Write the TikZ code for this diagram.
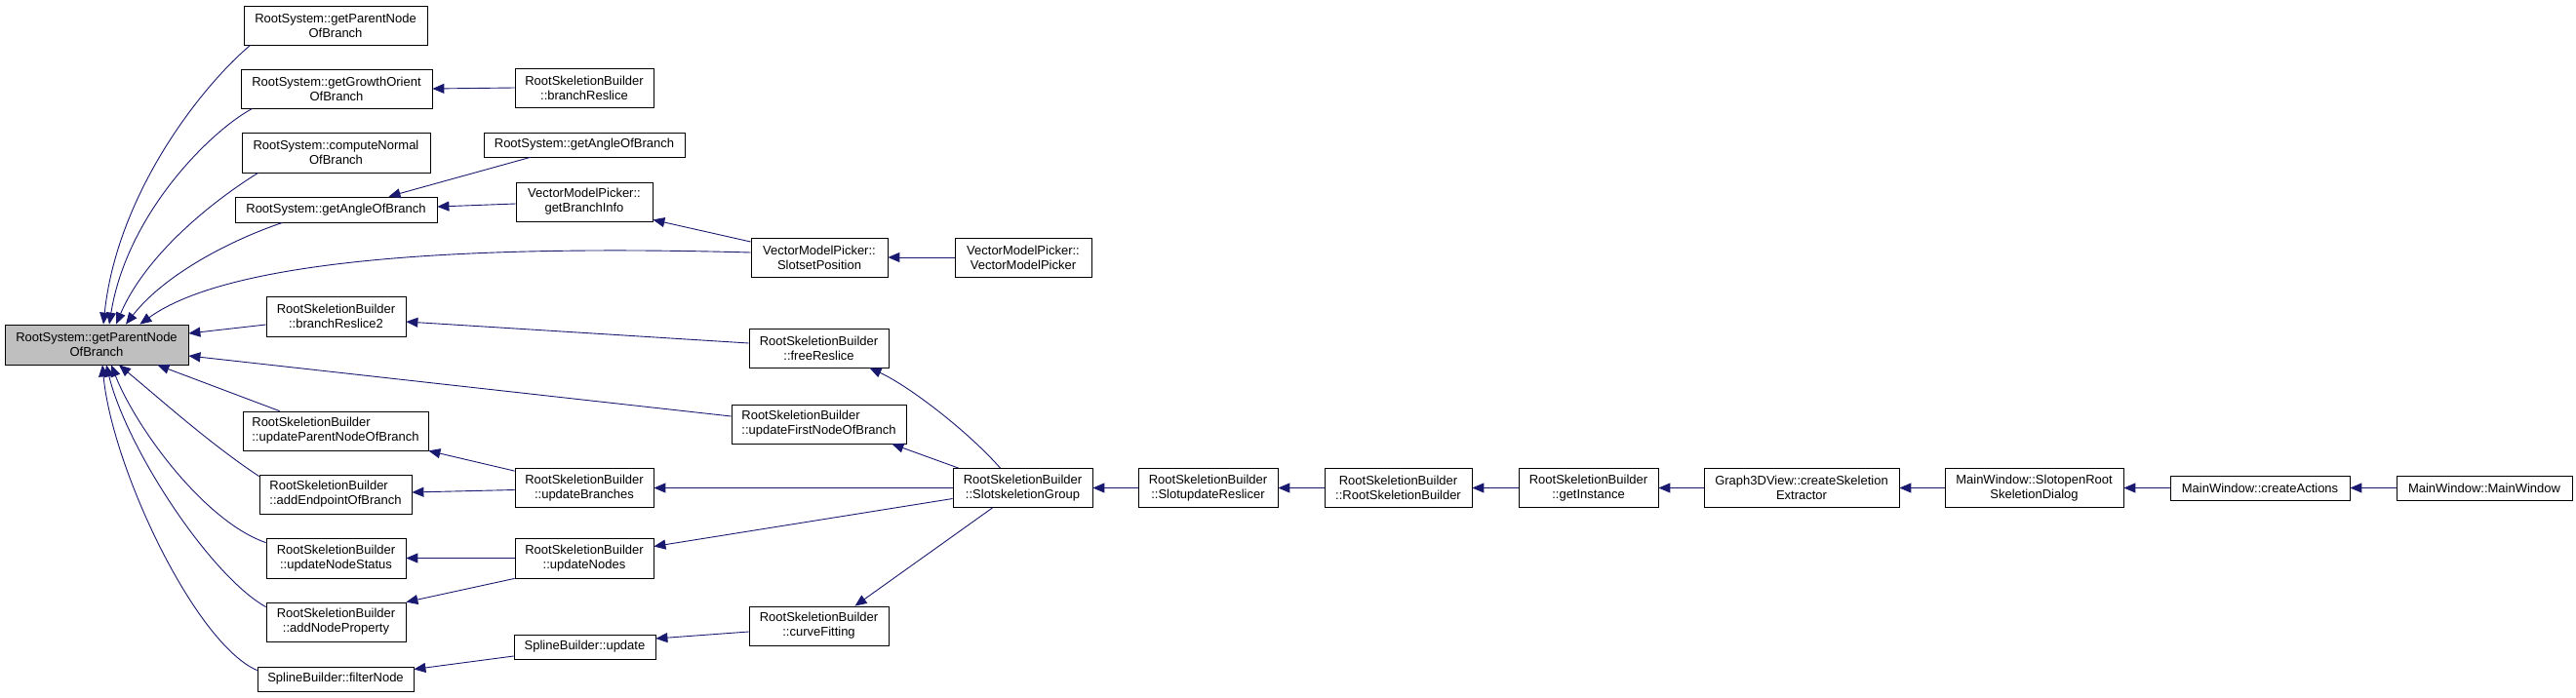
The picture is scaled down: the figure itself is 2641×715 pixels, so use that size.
\documentclass[tikz,border=0pt]{standalone}
\usepackage{fontspec}
\setmainfont{Liberation Sans}
\usepackage{tikz}
\usetikzlibrary{arrows.meta,positioning}
\definecolor{edgeblue}{HTML}{191970}
\definecolor{rootgray}{HTML}{BFBFBF}

\begin{document}
\begin{tikzpicture}[x=1pt,y=-1pt, every node/.style={font=\fontsize{13}{15}\selectfont}, box/.style={draw=black,fill=white,align=center,inner sep=0pt,line width=0.8pt}, wh/.style 2 args={minimum width=#1pt,minimum height=#2pt}, arr/.style={-{Triangle[length=12pt,width=10pt]},draw=edgeblue,line width=0.9pt}]
\path[use as bounding box,fill=white] (0,0) rectangle (2641,715);
% callee column
\node[box,fill=rootgray,wh={188}{41}] (root) at (99,353.5) {RootSystem::getParentNode\\OfBranch};
% direct callers
\node[box,wh={188}{40}] (pnb) at (344,26) {RootSystem::getParentNode\\OfBranch};
\node[box,wh={196}{40}] (gro) at (345,91) {RootSystem::getGrowthOrient\\OfBranch};
\node[box,wh={193}{41}] (cnb) at (344.5,156.5) {RootSystem::computeNormal\\OfBranch};
\node[box,wh={207}{26}] (gab) at (344.5,215) {RootSystem::getAngleOfBranch};
\node[box,wh={143}{41}] (br2) at (344.5,324.5) {RootSkeletionBuilder\\::branchReslice2};
\node[box,align=left,wh={190}{40}] (upn) at (344,442) {RootSkeletionBuilder\\::updateParentNodeOfBranch};
\node[box,align=left,wh={156}{40}] (aep) at (344,507) {RootSkeletionBuilder\\::addEndpointOfBranch};
\node[box,wh={143}{41}] (uns) at (344.5,572.5) {RootSkeletionBuilder\\::updateNodeStatus};
\node[box,wh={143}{40}] (anp) at (344.5,638) {RootSkeletionBuilder\\::addNodeProperty};
\node[box,wh={160}{25}] (fln) at (344,696.5) {SplineBuilder::filterNode};
% third column
\node[box,wh={142}{40}] (brs) at (599,90) {RootSkeletionBuilder\\::branchReslice};
\node[box,wh={206}{25}] (gar) at (599,148.5) {RootSystem::getAngleOfBranch};
\node[box,wh={140}{40}] (gbi) at (599,207) {VectorModelPicker::\\getBranchInfo};
\node[box,wh={142}{40}] (ubr) at (599,500.5) {RootSkeletionBuilder\\::updateBranches};
\node[box,wh={142}{41}] (und) at (599,572.5) {RootSkeletionBuilder\\::updateNodes};
\node[box,wh={145}{25}] (sbu) at (599.5,663.5) {SplineBuilder::update};
% fourth column
\node[box,wh={140}{40}] (spos) at (840,264) {VectorModelPicker::\\SlotsetPosition};
\node[box,wh={143}{40}] (frs) at (839.5,357) {RootSkeletionBuilder\\::freeReslice};
\node[box,align=left,wh={179}{40}] (ufn) at (839.5,435) {RootSkeletionBuilder\\::updateFirstNodeOfBranch};
\node[box,wh={143}{40}] (cfit) at (839.5,642) {RootSkeletionBuilder\\::curveFitting};
% chain to the main window
\node[box,wh={140}{40}] (vmp) at (1049,264) {VectorModelPicker::\\VectorModelPicker};
\node[box,wh={143}{40}] (skg) at (1048.5,500.5) {RootSkeletionBuilder\\::SlotskeletionGroup};
\node[box,wh={143}{40}] (sur) at (1238.5,500.5) {RootSkeletionBuilder\\::SlotupdateReslicer};
\node[box,wh={151}{40}] (rsb) at (1433.5,500.5) {RootSkeletionBuilder\\::RootSkeletionBuilder};
\node[box,wh={143}{40}] (gin) at (1628.5,500.5) {RootSkeletionBuilder\\::getInstance};
\node[box,wh={200}{40}] (cse) at (1847,500.5) {Graph3DView::createSkeletion\\Extractor};
\node[box,wh={183}{40}] (sor) at (2085.5,500.5) {MainWindow::SlotopenRoot\\SkeletionDialog};
\node[box,wh={184}{25}] (cac) at (2317,500.5) {MainWindow::createActions};
\node[box,wh={180}{25}] (mwn) at (2547,500.5) {MainWindow::MainWindow};
% calls into the root
\draw[arr] ([xshift=7pt]pnb.south west) .. controls (205,90) and (120,200) .. ([xshift=7pt]root.north);
\draw[arr] ([xshift=12pt]gro.south west) .. controls (215,135) and (130,220) .. ([xshift=13pt]root.north);
\draw[arr] ([xshift=17pt]cnb.south west) .. controls (220,205) and (150,260) .. ([xshift=20pt]root.north);
\draw[arr] ([xshift=49pt]gab.south west) .. controls (240,245) and (170,280) .. ([xshift=30pt]root.north);
\draw[arr] ([yshift=5pt]spos.west) .. controls (450,250) and (230,270) .. ([xshift=-50pt]root.north east);
\draw[arr] ([yshift=-8.5pt]br2.west) -- ([yshift=11.5pt]root.east);
\draw[arr] ([yshift=8pt]ufn.west) -- ([yshift=-11.5pt]root.east);
\draw[arr] ([xshift=38pt]upn.north west) -- ([xshift=-32pt]root.south east);
\draw[arr] ([yshift=-2pt]aep.north west) .. controls (215,455) and (165,410) .. ([xshift=23pt]root.south);
\draw[arr] ([yshift=-5pt]uns.north west) .. controls (210,535) and (140,440) .. ([xshift=15pt]root.south);
\draw[arr] ([yshift=-5pt]anp.north west) .. controls (215,590) and (130,460) .. ([xshift=10pt]root.south);
\draw[arr] ([yshift=-4pt]fln.north west) .. controls (200,660) and (115,480) .. ([xshift=6pt]root.south);
% second level
\draw[arr] (brs.west) -- (gro.east);
\draw[arr] ([xshift=48pt]gar.south west) -- ([xshift=54pt]gab.north);
\draw[arr] ([yshift=-2pt]gbi.west) -- ([yshift=3pt]gab.east);
\draw[arr] ([yshift=16pt]spos.west) -- ([yshift=2pt]gbi.south east);
\draw[arr] (vmp.west) -- (spos.east);
\draw[arr] ([yshift=5pt]frs.west) -- ([yshift=-5.5pt]br2.east);
\draw[arr] ([yshift=-3pt]ubr.north west) -- (upn.south east);
\draw[arr] ([yshift=-2pt]ubr.west) -- ([yshift=2pt]aep.east);
\draw[arr] (und.west) -- (uns.east);
\draw[arr] (und.south west) -- (anp.north east);
\draw[arr] ([yshift=-9.5pt]sbu.west) -- ([yshift=10pt]fln.east);
\draw[arr] ([yshift=-6pt]cfit.west) -- ([yshift=8.5pt]sbu.east);
% slot group fan-out
\draw[arr] ([xshift=-23pt]skg.north) .. controls (990,440) and (930,395) .. ([xshift=52pt]frs.south);
\draw[arr] ([xshift=6pt]skg.north west) -- ([xshift=-15pt]ufn.south east);
\draw[arr] (skg.west) -- (ubr.east);
\draw[arr] ([yshift=-11pt]skg.west) -- ([yshift=12pt]und.east);
\draw[arr] ([xshift=-31pt]skg.south) -- ([xshift=37pt]cfit.north);
% main chain
\draw[arr] (sur.west) -- (skg.east);
\draw[arr] (rsb.west) -- (sur.east);
\draw[arr] (gin.west) -- (rsb.east);
\draw[arr] (cse.west) -- (gin.east);
\draw[arr] (sor.west) -- (cse.east);
\draw[arr] (cac.west) -- (sor.east);
\draw[arr] (mwn.west) -- (cac.east);
\end{tikzpicture}
\end{document}
